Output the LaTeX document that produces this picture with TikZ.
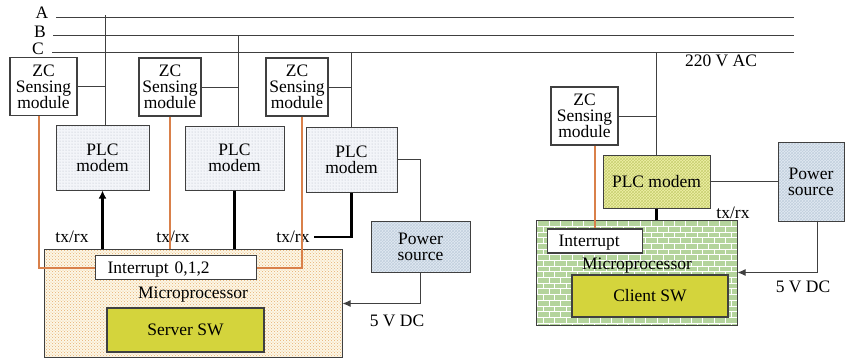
\documentclass[tikz,border=0pt]{standalone}
\usepackage{fontspec}
\setmainfont{Liberation Serif}
\usetikzlibrary{arrows.meta,patterns,positioning}
\definecolor{edgegray}{HTML}{404040}
\definecolor{wireorange}{HTML}{D9804A}
\definecolor{swyellow}{HTML}{D4D43C}
\definecolor{plcfill}{HTML}{F3F5F9}
\definecolor{plcdot}{HTML}{B0B8C4}
\definecolor{pwrfill}{HTML}{E2EAF2}
\definecolor{pwrline}{HTML}{C2D0DE}
\definecolor{srvfill}{HTML}{FCF7E6}
\definecolor{srvdot}{HTML}{E8AE70}
\definecolor{clplc}{HTML}{F0F0A8}
\definecolor{clplcline}{HTML}{C8D070}
\definecolor{clfill}{HTML}{B4D49C}

\begin{document}
\begin{tikzpicture}[
    x=1pt, y=-1pt,
    every node/.style={font=\fontsize{17.5}{16}\selectfont, inner sep=0pt},
    zcbox/.style={draw=edgegray, line width=1.2pt, fill=white, align=center, minimum width=64pt, minimum height=58pt},
    plcbox/.style={draw=edgegray, line width=1pt, align=center, preaction={fill=plcfill}, pattern=dots, pattern color=plcdot},
    pwrbox/.style={draw=edgegray, line width=1pt, align=center, preaction={fill=pwrfill}, pattern=crosshatch, pattern color=pwrline},
    srvbox/.style={draw=edgegray, line width=1pt, preaction={fill=srvfill}, pattern=crosshatch dots, pattern color=srvdot},
    clibox/.style={draw=edgegray, line width=1pt, preaction={fill=clfill}, pattern=bricks, pattern color=white},
    intbox/.style={draw=edgegray, line width=1.2pt, fill=white, anchor=west, text depth=0pt},
    swbox/.style={draw=edgegray, line width=1.2pt, fill=swyellow},
    bus/.style={edgegray, line width=1pt},
    tap/.style={edgegray, line width=1pt},
    txline/.style={black, line width=2.2pt},
    zcline/.style={wireorange, line width=2pt},
    dcline/.style={-{Latex[length=8pt,width=7pt]}, edgegray, line width=1pt}
]
\useasboundingbox (0,0) rectangle (845,360);

\node (labA) at (42,13) {A};
\node (labB) at (40,32) {B};
\node (labC) at (38,49) {C};
\coordinate (A0) at (56,17);  \coordinate (A1) at (794,17);
\coordinate (B0) at (53,35);  \coordinate (B1) at (794,35);
\coordinate (C0) at (52,52);  \coordinate (C1) at (794,52);
\draw[bus] (A0) -- (A1);
\draw[bus] (B0) -- (B1);
\draw[bus] (C0) -- (C1);
\node (ac) at (721,61) {220 V AC};

\node[zcbox, minimum width=67pt] (zc1) at (43.5,86.5) {ZC\\Sensing\\module};
\node[zcbox, minimum width=62pt] (zc2) at (170,87) {ZC\\Sensing\\module};
\node[zcbox, minimum width=62pt] (zc3) at (297,87) {ZC\\Sensing\\module};
\node[plcbox, minimum width=93pt, minimum height=65pt] (plc1) at (102.5,157.5) {PLC\\modem};
\node[plcbox, minimum width=99pt, minimum height=64pt] (plc2) at (234.5,158) {PLC\\modem};
\node[plcbox, minimum width=91pt, minimum height=65pt] (plc3) at (351.5,159.5) {PLC\\modem};
\node[pwrbox, minimum width=99pt, minimum height=51pt] (pwr1) at (420.5,246.5) {Power\\source};
\node[srvbox, minimum width=298pt, minimum height=108pt] (srv) at (193,303.5) {};
\node[intbox, minimum width=161pt, minimum height=24pt, text width=161pt, align=left] (int1) at (95,267.5) {\hspace{12pt}Interrupt 0,1,2};
\node (srvlab) at (193,295) {Microprocessor};
\node[swbox, minimum width=157pt, minimum height=44pt] (srvsw) at (185.5,330) {Server SW};

\node (txrx1) at (72,237) {tx/rx};
\node (txrx2) at (173,237) {tx/rx};
\node (txrx3) at (293,237) {tx/rx};
\node (dc1) at (397,321) {5 V DC};

\coordinate (tap1) at (105,15);
\coordinate (tap2) at (238,35);
\coordinate (tap3) at (351,52);
\draw[tap] (tap1) -- (tap1 |- plc1.north);
\draw[tap] (tap2) -- (tap2 |- plc2.north);
\draw[tap] (tap3) -- (tap3 |- plc3.north);
\draw[tap] (zc1.east) -- (zc1.east -| tap1);
\draw[tap] (zc2.east) -- (zc2.east -| tap2);
\draw[tap] (zc3.east) -- (zc3.east -| tap3);

\draw[zcline] ([xshift=-4.5pt]zc1.south) |- (int1.west);
\draw[zcline] (zc2.south) -- (zc2.south |- srv.north);
\draw[zcline] ([xshift=5pt]zc3.south) |- (int1.east);

\draw[txline, -{Latex[length=8pt,width=8pt]}] (srv.north -| plc1.south) -- (plc1.south);
\draw[txline] (plc2.south) -- (plc2.south |- srv.north);
\draw[txline] (plc3.south) |- ([xshift=4pt]txrx3.east);

\draw[tap] (plc3.east) -| (pwr1.north);
\draw[dcline] (pwr1.south) |- (srv.east);

\node[zcbox, minimum width=67pt] (zc4) at (584.5,116) {ZC\\Sensing\\module};
\node[draw=edgegray, line width=1pt, preaction={fill=clplc}, pattern=crosshatch, pattern color=clplcline, minimum width=107pt, minimum height=53pt] (plc4) at (656.5,181.5) {PLC modem};
\node[pwrbox, minimum width=66pt, minimum height=79pt] (pwr2) at (811,181.5) {Power\\source};
\node[clibox, minimum width=201pt, minimum height=105pt] (cli) at (636.5,272.5) {};
\node[intbox, minimum width=95pt, minimum height=24pt, text width=95pt, align=left] (int2) at (547,241) {\hspace{11pt}Interrupt};
\node (clilab) at (637,266) {Microprocessor};
\node[swbox, minimum width=156pt, minimum height=42pt] (clisw) at (650,296) {Client SW};
\node (txrx4) at (733,213) {tx/rx};
\node (dc2) at (803,287) {5 V DC};

\coordinate (tap4) at (656,52);
\draw[tap] (tap4) -- (tap4 |- plc4.north);
\draw[tap] (zc4.east) -- (zc4.east -| tap4);
\draw[zcline] (int2.north |- zc4.south) -- (int2.north);
\draw[txline] (plc4.south) -- (plc4.south |- cli.north);
\draw[tap] (plc4.east) -- (pwr2.west);
\draw[dcline] ([xshift=6pt]pwr2.south) |- (cli.east);
\end{tikzpicture}
\end{document}
